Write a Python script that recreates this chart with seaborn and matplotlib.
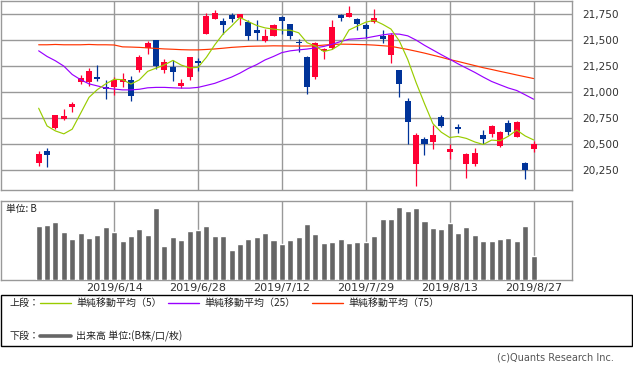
import numpy as np
import matplotlib
matplotlib.use('Agg')
import matplotlib.pyplot as plt
import seaborn as sns
from matplotlib.lines import Line2D
from matplotlib.patches import Rectangle

sns.set_style('white')
plt.rcParams['font.family'] = ['DejaVu Sans', 'Noto Sans CJK JP']
JP = ['Noto Sans CJK JP', 'DejaVu Sans']

# ---------------- data ----------------
date_labels = ["2019/6/14", "2019/6/28", "2019/7/12", "2019/7/29", "2019/8/13", "2019/8/27"]
date_tick_idx = [9, 19, 29, 39, 49, 59]
price_ticks = [20250, 20500, 20750, 21000, 21250, 21500, 21750]

opens = [20324, 20436, 20660, 20740, 20853, 21093, 21093, 21138, 21045, 21045,
         21093, 21119, 21215, 21420, 21497, 21215, 21244, 21064, 21147, 21288,
         21561, 21702, 21686, 21744, 21708, 21676, 21599, 21494, 21542, 21724,
         21651, 21481, 21340, 21141, 21391, 21420, 21737, 21718, 21705, 21644,
         21676, 21535, 21359, 21215, 20920, 20311, 20551, 20526, 20760, 20430,
         20667, 20311, 20311, 20590, 20603, 20484, 20705, 20574, 20320, 20458]
highs = [20436, 20465, 20785, 20840, 20907, 21163, 21234, 21263, 21119, 21144,
         21186, 21157, 21359, 21490, 21503, 21321, 21311, 21128, 21340, 21330,
         21760, 21792, 21712, 21763, 21750, 21696, 21696, 21606, 21657, 21727,
         21657, 21510, 21349, 21484, 21423, 21696, 21753, 21830, 21712, 21663,
         21798, 21599, 21567, 21215, 20942, 20606, 20571, 20686, 20782, 20503,
         20696, 20413, 20465, 20638, 20686, 20628, 20734, 20721, 20330, 20532]
lows = [20295, 20285, 20644, 20734, 20814, 21074, 21064, 21112, 20930, 20971,
        21048, 20920, 21192, 21369, 21221, 21180, 21112, 21039, 21119, 21199,
        21554, 21702, 21561, 21670, 21647, 21497, 21503, 21484, 21535, 21561,
        21513, 21381, 20987, 21122, 21317, 21413, 21679, 21718, 21593, 21519,
        21667, 21471, 21282, 20955, 20503, 20103, 20401, 20455, 20667, 20362,
        20612, 20180, 20295, 20503, 20574, 20478, 20590, 20567, 20170, 20430]
closes = [20407, 20401, 20779, 20776, 20888, 21138, 21205, 21128, 21029, 21119,
          21125, 20968, 21340, 21468, 21253, 21292, 21189, 21090, 21340, 21282,
          21734, 21760, 21641, 21699, 21750, 21535, 21564, 21542, 21647, 21686,
          21535, 21468, 21045, 21474, 21417, 21628, 21708, 21760, 21654, 21609,
          21712, 21513, 21545, 21083, 20718, 20593, 20503, 20590, 20676, 20455,
          20651, 20407, 20417, 20555, 20676, 20615, 20619, 20715, 20256, 20503]

ma5 = [20846, 20676, 20628, 20600, 20645, 20797, 20950, 21025, 21080, 21124,
       21120, 21078, 21118, 21200, 21231, 21262, 21305, 21260, 21233, 21238,
       21335, 21455, 21560, 21635, 21717, 21677, 21640, 21617, 21605, 21596,
       21595, 21570, 21475, 21442, 21390, 21410, 21460, 21597, 21635, 21672,
       21690, 21652, 21606, 21492, 21314, 21092, 20890, 20698, 20616, 20565,
       20575, 20556, 20522, 20498, 20540, 20534, 20577, 20636, 20580, 20542]
ma25 = [21397, 21343, 21301, 21250, 21170, 21120, 21080, 21060, 21040, 21030,
        21022, 21022, 21028, 21042, 21046, 21046, 21042, 21039, 21039, 21046,
        21065, 21085, 21115, 21145, 21183, 21228, 21265, 21310, 21343, 21380,
        21397, 21406, 21414, 21426, 21439, 21460, 21486, 21508, 21513, 21520,
        21535, 21550, 21560, 21557, 21541, 21500, 21450, 21405, 21360, 21317,
        21272, 21231, 21190, 21145, 21103, 21071, 21040, 21016, 20975, 20933]
ma75 = [21455, 21455, 21458, 21455, 21455, 21455, 21458, 21455, 21455, 21453,
        21435, 21433, 21430, 21425, 21420, 21415, 21412, 21408, 21406, 21406,
        21410, 21415, 21422, 21430, 21435, 21440, 21442, 21443, 21445, 21444,
        21443, 21443, 21443, 21445, 21452, 21458, 21461, 21460, 21458, 21456,
        21452, 21446, 21440, 21425, 21410, 21393, 21375, 21355, 21335, 21313,
        21295, 21275, 21255, 21235, 21218, 21200, 21183, 21165, 21148, 21131]

volume = [1.24, 1.26, 1.32, 1.09, 0.93, 1.07, 0.96, 1.03, 1.21, 1.09,
          0.89, 1.00, 1.16, 1.03, 1.65, 0.78, 0.98, 0.91, 1.12, 1.14,
          1.23, 1.00, 1.00, 0.68, 0.82, 0.93, 0.98, 1.07, 0.91, 0.82,
          0.91, 0.98, 1.28, 1.05, 0.84, 0.87, 0.93, 0.84, 0.87, 0.87,
          1.00, 1.39, 1.39, 1.66, 1.57, 1.64, 1.35, 1.19, 1.16, 1.30,
          1.07, 1.21, 1.03, 0.89, 0.89, 0.93, 0.96, 0.89, 1.23, 0.55]

# ---------------- style ----------------
RED = '#ff0033'
BLUE = '#003399'
C_MA5 = '#99cc00'
C_MA25 = '#9900ff'
C_MA75 = '#ff3300'
GRID = '#999999'
VOLC = '#666666'
TXT = '#333333'

W, H = 633, 370
def fx(px):
    return px / W
def fy(py):
    return 1 - py / H

fig = plt.figure(figsize=(W / 100, H / 100), dpi=100)
fig.patch.set_facecolor('white')

XL = (-4.55, 63.55)

# ---------------- price panel ----------------
ax = fig.add_axes([fx(0.5), fy(190), fx(571.7) - fx(0.5), fy(0.5) - fy(190)])
o = np.array(opens, float)
c = np.array(closes, float)
hi = np.array(highs, float)
lo = np.array(lows, float)
idx = np.arange(len(c))
cols = np.where(c >= o, RED, BLUE)

ax.vlines(idx, lo, hi, colors=cols, lw=0.9, zorder=2)
bottoms = np.minimum(o, c)
heights = np.maximum(np.abs(c - o), 18)
ax.bar(idx, heights, bottom=bottoms, width=0.72, color=cols, linewidth=0, zorder=3)

sns.lineplot(x=idx, y=ma75, ax=ax, color=C_MA75, linewidth=0.85, zorder=4)
sns.lineplot(x=idx, y=ma25, ax=ax, color=C_MA25, linewidth=0.85, zorder=4)
sns.lineplot(x=idx, y=ma5, ax=ax, color=C_MA5, linewidth=0.85, zorder=4)

ax.set_xlim(*XL)
ax.set_ylim(20061, 21880)
ax.set_xticks(date_tick_idx)
ax.set_xticklabels([])
ax.set_yticks(price_ticks)
ax.set_yticklabels([f"{v:,}" for v in price_ticks])
ax.yaxis.tick_right()
ax.tick_params(axis='y', length=0, pad=7.5, labelsize=7.6, labelcolor=TXT)
ax.tick_params(axis='x', length=0)
ax.grid(True, color=GRID, linewidth=1.0)
ax.set_axisbelow(True)
ax.set_xlabel('')
ax.set_ylabel('')
for s in ax.spines.values():
    s.set_color(GRID)
    s.set_linewidth(1.0)

# ---------------- volume panel ----------------
axv = fig.add_axes([fx(0.5), fy(280), fx(571.7) - fx(0.5), fy(201) - fy(280)])
sns.barplot(x=idx, y=volume, ax=axv, color=VOLC, saturation=1, width=0.72,
            errorbar=None, zorder=3)
axv.set_xlim(*XL)
axv.set_ylim(0, 1.8)
axv.set_xticks(date_tick_idx)
axv.set_xticklabels(date_labels)
axv.set_yticks([])
axv.tick_params(axis='x', length=0, pad=2, labelsize=8, labelcolor=TXT)
axv.xaxis.grid(True, color=GRID, linewidth=1.0)
axv.yaxis.grid(False)
axv.set_axisbelow(True)
axv.set_xlabel('')
axv.set_ylabel('')
for s in axv.spines.values():
    s.set_color(GRID)
    s.set_linewidth(1.0)
fig.text(fx(6), fy(209), '単位: B', fontsize=7, family=JP, color='#222222', va='center')

# ---------------- legend box ----------------
fig.add_artist(Rectangle((fx(0.5), fy(346)), fx(632) - fx(0.5), fy(295) - fy(346),
                         transform=fig.transFigure, fill=False, edgecolor='black', linewidth=1.0))
r1, r2 = fy(303), fy(336)
fs = 7.2
fig.text(fx(9), r1, '上段：', fontsize=fs, family=JP, va='center', color='#222222')
for (x0, x1, tx, col, label) in [(40, 71, 76, C_MA5, '単純移動平均（5）'),
                                  (168, 199, 204, C_MA25, '単純移動平均（25）'),
                                  (312, 343, 348, C_MA75, '単純移動平均（75）')]:
    fig.add_artist(Line2D([fx(x0), fx(x1)], [r1, r1], color=col, linewidth=1.0,
                          transform=fig.transFigure))
    fig.text(fx(tx), r1, label, fontsize=fs, family=JP, va='center', color='#222222')
fig.text(fx(9), r2, '下段：', fontsize=fs, family=JP, va='center', color='#222222')
fig.add_artist(Line2D([fx(40), fx(71)], [r2, r2], color=VOLC, linewidth=2.6,
                      transform=fig.transFigure))
fig.text(fx(76), r2, '出来高 単位:(B株/口/枚)', fontsize=fs, family=JP, va='center', color='#222222')

fig.text(fx(614), fy(358), '(c)Quants Research Inc.', fontsize=7, ha='right', va='center',
         color='#555555')

fig.savefig('out.png', dpi=100)
